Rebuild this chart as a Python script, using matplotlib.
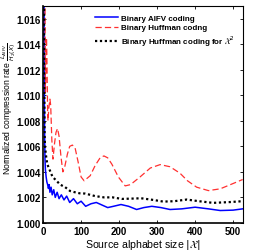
import matplotlib
matplotlib.use("Agg")
import matplotlib.pyplot as plt

# Binary AIFV coding
n_aifv = [2, 3, 4, 5, 6, 8, 10, 12, 14, 16, 18, 21, 24, 28, 32, 37, 42, 48, 55, 62,
          70, 80, 90, 100, 112, 126, 140, 155, 170, 185, 205, 225, 246, 265, 286, 310,
          334, 365, 400, 435, 466, 500, 525]
r_aifv = [1.0300, 1.0110, 1.0068, 1.0050, 1.0042, 1.0036, 1.0032, 1.0030, 1.0027, 1.0030,
          1.0024, 1.0028, 1.0022, 1.0026, 1.0020, 1.0024, 1.0019, 1.0022, 1.0018, 1.0021,
          1.0016, 1.0019, 1.0015, 1.0017, 1.0013, 1.0015, 1.0016, 1.0014, 1.0012, 1.0013,
          1.00144, 1.0013, 1.00105, 1.0012, 1.0013, 1.0012, 1.00105, 1.0011, 1.00123,
          1.0011, 1.00097, 1.0010, 1.0011]

# Binary Huffman coding
n_huff = [3, 5, 6, 7, 8, 9, 10, 12, 13, 15, 18, 20, 23, 26, 30, 34, 38, 42, 47, 52,
          57, 64, 70, 77, 84, 92, 100, 108, 124, 137, 150, 160, 170, 181, 198, 216,
          230, 255, 282, 308, 334, 360, 380, 404, 435, 466, 501, 525]
r_huff = [1.0300, 1.0180, 1.0102, 1.0110, 1.0135, 1.0145, 1.0130, 1.0085, 1.0080, 1.0090,
          1.0097, 1.0092, 1.0065, 1.0050, 1.0062, 1.0071, 1.0074, 1.0068, 1.0052, 1.0040,
          1.0044, 1.0054, 1.0060, 1.0061, 1.0059, 1.0048, 1.0036, 1.0033, 1.0037, 1.0045,
          1.0051, 1.00525, 1.0051, 1.0046, 1.0036, 1.0029, 1.0030, 1.0036, 1.0043, 1.00457,
          1.0044, 1.0039, 1.0033, 1.0028, 1.00253, 1.00267, 1.0031, 1.0034]

# Binary Huffman coding for X^2
n_huff2 = [2, 3, 4, 5, 8, 11, 18, 25, 32, 45, 58, 71, 84, 96, 110, 124, 137, 160, 183,
           207, 230, 258, 290, 316, 345, 378, 410, 447, 490, 525]
r_huff2 = [1.0300, 1.0120, 1.0070, 1.0060, 1.0052, 1.0046, 1.0041, 1.0036, 1.0034, 1.0030,
           1.0028, 1.0025, 1.0024, 1.00232, 1.0023, 1.0022, 1.0021, 1.0020, 1.0020,
           1.00188, 1.0019, 1.00193, 1.0018, 1.00167, 1.0017, 1.00183, 1.0017, 1.00157,
           1.00163, 1.0017]

labels = ["Binary AIFV coding", "Binary Huffman codng",
          r"Binary Huffman coding for $\mathcal{X}^2$"]
xticks = [0, 100, 200, 300, 400, 500]
yticks = [1.000, 1.002, 1.004, 1.006, 1.008, 1.010, 1.012, 1.014, 1.016]

plt.rcParams['font.family'] = ['Liberation Sans', 'DejaVu Sans']
plt.rcParams['mathtext.fontset'] = 'dejavusans'

fig = plt.figure(figsize=(2.55, 2.51), dpi=100)
ax = fig.add_axes([0.169, 0.108, 0.784, 0.864])

ax.plot(n_aifv, r_aifv, color='#0000ff', lw=1.1, label=labels[0])
ax.plot(n_huff, r_huff, color='#ff3030', lw=0.9, ls=(0, (5, 2.5)), label=labels[1])
ax.plot(n_huff2, r_huff2, color='black', lw=1.6, ls=(0, (1, 1.2)), label=labels[2])

ax.set_xlim(0, 526)
ax.set_ylim(1.0, 1.017)
ax.set_xticks(xticks)
ax.set_yticks(yticks)
ax.set_xticklabels([str(v) for v in xticks], fontweight='bold', fontsize=7)
ax.set_yticklabels(["%.3f" % v for v in yticks], fontweight='bold', fontsize=7)
ax.tick_params(direction='in', top=True, right=True, length=2.5, width=0.6, pad=2)
for s in ax.spines.values():
    s.set_linewidth(0.8)
ax.spines['left'].set_linewidth(1.2)
ax.spines['bottom'].set_linewidth(1.2)

ax.set_xlabel(r"Source alphabet size $|\mathcal{X}|$", fontsize=7.6, labelpad=1)
ax.set_ylabel(r"Normalized compression rate $\frac{L_{AIFV}}{H_2(X)}$", fontsize=6.2)
ax.yaxis.set_label_coords(-0.128, 0.53)

leg = ax.legend(loc='upper right', frameon=False, handlelength=2.9,
                handletextpad=0.4, labelspacing=0.25, borderaxespad=0.6,
                prop={'weight': 'bold', 'size': 5.8})

fig.savefig("out.png", dpi=100)
